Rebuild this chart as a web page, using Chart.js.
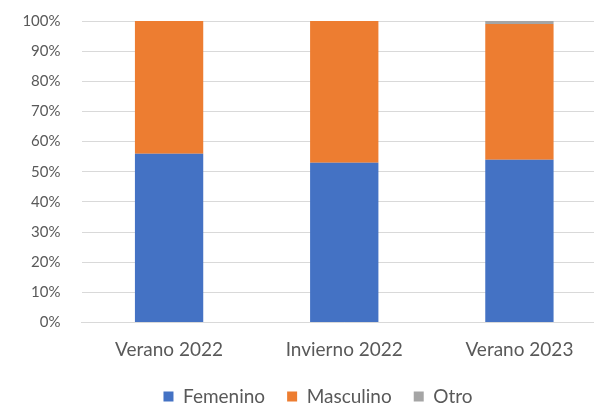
<!DOCTYPE html>
<html>
<head>
<meta charset="utf-8">
<script src="https://cdn.jsdelivr.net/npm/chart.js@4/dist/chart.umd.min.js"></script>
<style>
  html, body { margin: 0; padding: 0; background: #fff; overflow: hidden; }
  #wrap { width: 620px; height: 425px; position: relative; top: -9px; }
</style>
</head>
<body>
<div id="wrap"><canvas id="c" width="620" height="425"></canvas></div>
<script>
const categories = ['Verano 2022', 'Invierno 2022', 'Verano 2023'];
const femenino = [56, 53, 54];
const masculino = [44, 47, 45];
const otro = [0, 0, 1];

const textColor = '#595959';
const gridColor = '#d9d9d9';
const fontFamily = 'Lato, "Open Sans", sans-serif';

// Nudge the legend row a little to the right of the canvas centre
const legendShift = {
  id: 'legendShift',
  afterLayout(chart) {
    if (chart.legend) {
      chart.legend.left += 14.5;
      chart.legend.right += 14.5;
    }
  }
};

new Chart(document.getElementById('c'), {
  type: 'bar',
  data: {
    labels: categories,
    datasets: [
      { label: 'Femenino', data: femenino, backgroundColor: '#4472C4' },
      { label: 'Masculino', data: masculino, backgroundColor: '#ED7D31' },
      { label: 'Otro', data: otro, backgroundColor: '#A5A5A5' }
    ]
  },
  plugins: [legendShift],
  options: {
    responsive: false,
    animation: false,
    devicePixelRatio: 1,
    layout: { padding: { top: 1, right: 13, left: 0, bottom: 0 } },
    datasets: { bar: { categoryPercentage: 1, barPercentage: 0.39 } },
    scales: {
      x: {
        stacked: true,
        grid: { display: false },
        border: { color: gridColor },
        ticks: { color: textColor, font: { family: fontFamily, size: 19 }, padding: 8 },
        afterFit: s => { s.height = 42.5; }
      },
      y: {
        stacked: true,
        min: 0,
        max: 100,
        ticks: {
          stepSize: 10,
          color: textColor,
          font: { family: fontFamily, size: 15 },
          padding: 21,
          callback: v => v + '%'
        },
        grid: { color: gridColor, drawTicks: false },
        border: { display: false },
        afterFit: s => { s.width = 81.5; }
      }
    },
    plugins: {
      tooltip: { enabled: false },
      legend: {
        position: 'bottom',
        labels: {
          color: textColor,
          font: { family: fontFamily, size: 19 },
          boxWidth: 10,
          boxHeight: 10,
          padding: 22
        }
      }
    }
  }
});
</script>
</body>
</html>
